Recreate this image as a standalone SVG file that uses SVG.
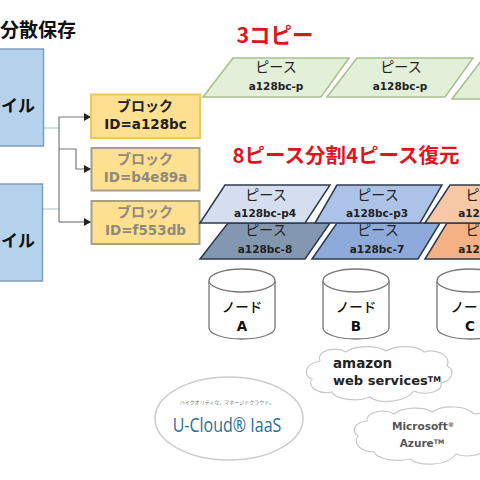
<svg xmlns="http://www.w3.org/2000/svg" width="480" height="480" viewBox="0 0 480 480">
<defs>
<marker id="arr" markerUnits="userSpaceOnUse" markerWidth="8" markerHeight="8" refX="7" refY="4" orient="auto"><path d="M0 0L7 4L0 8Z" fill="#222"/></marker>
</defs>
<style>
text{font-family:"Noto Sans CJK JP","DejaVu Sans",sans-serif;text-anchor:middle}
.file{fill:#b4d2ec;stroke:#7f9db9;stroke-width:1.5}
.ft{font-size:17px;font-weight:700;fill:#111}
.blk{fill:#ffdf90;stroke-width:2}
.bt{font-size:14px;font-weight:700}
.bi{font-family:"DejaVu Sans",sans-serif;font-size:13.5px;font-weight:700}
.red{font-weight:700;fill:#e0141c}
.g{fill:#e2efd9;stroke:#a5c18c;stroke-width:1.5}
.d{stroke:#2e3b4e;stroke-width:1.5}
.pt{font-size:14px;fill:#222}
.pi{font-family:"DejaVu Sans",sans-serif;font-size:10.5px;font-weight:700;fill:#222}
.cyl{fill:#fff;stroke:#777;stroke-width:1.3}
.nt{font-size:13.5px;font-weight:500;fill:#111}
.nl{font-family:"DejaVu Sans",sans-serif;font-size:13.5px;font-weight:700;fill:#111}
.cl{fill:#fff;stroke:#c8c8c8;stroke-width:1.2}
.sup{font-size:60%}
</style>
<rect width="480" height="480" fill="#fff"/>
<text x="38" y="37" font-size="19" font-weight="700" fill="#111">分散保存</text>

<g id="connectors" fill="none" stroke="#777" stroke-width="1.2">
<path d="M44 128H59" stroke="#b9cbd6"/>
<path d="M43 209H59" stroke="#b9cbd6"/>
<path d="M59 222V117H91" marker-end="url(#arr)"/>
<path d="M59 149H76V169H91" marker-end="url(#arr)"/>
<path d="M59 222H91" marker-end="url(#arr)"/>
</g>

<g id="file1"><rect class="file" x="-10" y="49" width="53.500" height="97"/><text class="ft" x="18" y="112">イル</text></g>
<g id="file2"><rect class="file" x="-10" y="184" width="52.500" height="97"/><text class="ft" x="18" y="247">イル</text></g>

<g id="block1"><rect class="blk" x="91" y="94.500" width="109" height="43.500" stroke="#f0c85a"/><text class="bt" x="145" y="111" fill="#222">ブロック</text><text class="bi" x="145.500" y="128.500" fill="#222">ID=a128bc</text></g>
<g id="block2"><rect class="blk" x="91.500" y="148" width="108" height="42.500" stroke="#a59f8c"/><text class="bt" x="145" y="164" fill="#8e8a7c">ブロック</text><text class="bi" x="145.500" y="182" fill="#8e8a7c">ID=b4e89a</text></g>
<g id="block3"><rect class="blk" x="91.500" y="201" width="108" height="43" stroke="#a59f8c"/><text class="bt" x="145" y="217" fill="#8e8a7c">ブロック</text><text class="bi" x="145.500" y="235" fill="#8e8a7c">ID=f553db</text></g>

<text class="red" x="275" y="43" font-size="21.500">3コピー</text>
<g id="copy1"><polygon class="g" points="203,97 233,58 349,58 321,97"/><text class="pt" x="276" y="72">ピース</text><text class="pi" x="276" y="90">a128bc-p</text></g>
<g id="copy2"><polygon class="g" points="327,97 357,58 473,58 445,97"/><text class="pt" x="401" y="72">ピース</text><text class="pi" x="400" y="90">a128bc-p</text></g>
<g id="copy3"><polygon class="g" points="452,99 482,60 600,60 570,99"/></g>

<text class="red" x="346" y="163" font-size="20.500">8ピース分割4ピース復元</text>

<g id="piece8"><polygon class="d" fill="#8497b0" points="200,259 228,223 330,223 305,259"/><text class="pt" x="266" y="235">ピース</text><text class="pi" x="265" y="253">a128bc-8</text></g>
<g id="piece7"><polygon class="d" fill="#8eaadb" points="312,259 337,223 440,223 418,259"/><text class="pt" x="378" y="235">ピース</text><text class="pi" x="377" y="253">a128bc-7</text></g>
<g id="pieceO2"><polygon class="d" fill="#f4b183" points="425,259 447,223 560,223 540,259"/><text class="pt" x="472.500" y="235">ピ</text><text class="pi" x="469" y="253">a12</text></g>
<g id="piece4"><polygon class="d" fill="#d5deef" points="200,223 225,185 330,185 305,223"/><text class="pt" x="266" y="200">ピース</text><text class="pi" x="265" y="217">a128bc-p4</text></g>
<g id="piece3"><polygon class="d" fill="#adc2e7" points="315,223 337,185 442,185 420,223"/><text class="pt" x="378" y="200">ピース</text><text class="pi" x="377" y="217">a128bc-p3</text></g>
<g id="pieceO1"><polygon class="d" fill="#f6c8a6" points="425,223 450,185 560,185 540,223"/><text class="pt" x="472.500" y="200">ピ</text><text class="pi" x="469" y="217">a12</text></g>

<g id="nodeA"><path class="cyl" d="M209 281V328C209 334 224 339 242 339S275 334 275 328V281"/><ellipse class="cyl" cx="242" cy="280.500" rx="33" ry="11.500"/><text class="nt" x="242" y="312">ノード</text><text class="nl" x="242" y="331">A</text></g>
<g id="nodeB"><path class="cyl" d="M323 281V328C323 334 338 339 356 339S389 334 389 328V281"/><ellipse class="cyl" cx="356" cy="280.500" rx="33" ry="11.500"/><text class="nt" x="356" y="312">ノード</text><text class="nl" x="356" y="331">B</text></g>
<g id="nodeC"><path class="cyl" d="M437 281V328C437 334 452 339 470 339S503 334 503 328V281"/><ellipse class="cyl" cx="470" cy="280.500" rx="33" ry="11.500"/><text class="nt" x="464" y="312">ノー</text><text class="nl" x="470" y="331">C</text></g>

<g id="aws"><path class="cl" d="M320 361C316 350 336 346 346 352C354 345 378 345 386 351C396 345 418 345 424 352C436 348 452 356 447 366C456 370 452 381 441 383C444 392 424 396 414 391C406 402 380 405 370 397C358 402 336 400 332 392C320 395 306 387 312 379C303 376 304 364 320 361Z"/><text x="333" y="368" style="text-anchor:start;font-family:'DejaVu Sans',sans-serif;font-weight:700" font-size="13.500" fill="#222">amazon</text><text x="333" y="385" style="text-anchor:start;font-family:'DejaVu Sans',sans-serif;font-weight:700" font-size="13" fill="#222">web services<tspan class="sup" dy="-3">TM</tspan></text></g>

<g id="azure"><path class="cl" d="M367 421C366 412 384 408 394 414C402 407 424 406 432 412C442 405 466 405 474 414C484 412 492 416 492 424C500 430 498 444 488 446C484 456 466 458 456 454C448 466 420 467 410 459C398 462 378 460 374 452C362 452 352 444 358 436C350 430 356 422 367 421Z"/><text x="423" y="430" style="font-family:'DejaVu Sans',sans-serif;font-weight:700" font-size="10.500" fill="#555">Microsoft<tspan class="sup" dy="-3">®</tspan></text><text x="422" y="447" style="font-family:'DejaVu Sans',sans-serif;font-weight:700" font-size="10.500" fill="#555">Azure<tspan class="sup" dy="-3">TM</tspan></text></g>

<g id="ucloud"><ellipse cx="229" cy="418.500" rx="74" ry="41.500" fill="#fff" stroke="#ccc" stroke-width="1.500"/><text x="227" y="404" font-size="5" fill="#777">ハイクオリティな、マネージドクラウド。</text><text transform="translate(227 432) scale(0.8 1)" x="0" y="0" style="font-family:'Open Sans',sans-serif" font-size="20" fill="#2a6f97">U-Cloud® IaaS</text></g>
</svg>
